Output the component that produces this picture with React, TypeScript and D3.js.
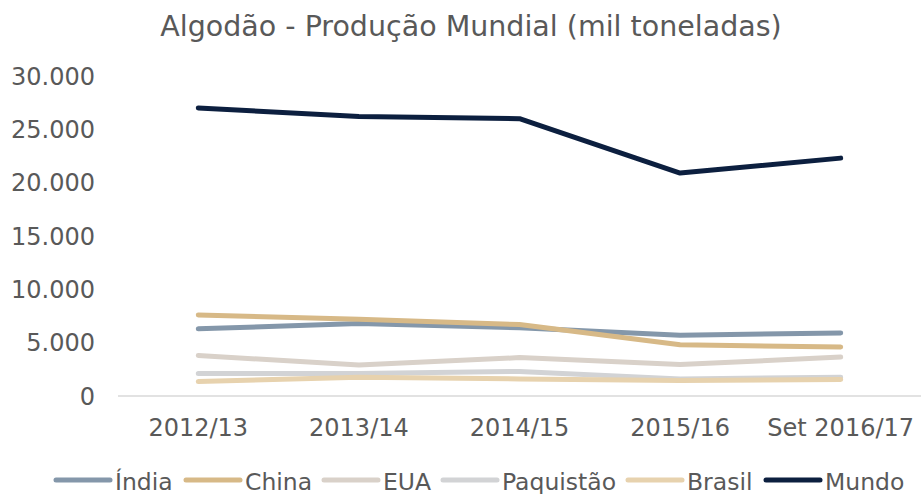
import React from "react";
import * as d3 from "d3";

const categories = ["2012/13", "2013/14", "2014/15", "2015/16", "Set 2016/17"];
const yTicks = [0, 5000, 10000, 15000, 20000, 25000, 30000];

const india = [6300, 6800, 6400, 5700, 5900];
const china = [7600, 7200, 6700, 4800, 4600];
const eua = [3800, 2900, 3600, 2950, 3650];
const paquistao = [2100, 2100, 2300, 1600, 1750];
const brasil = [1350, 1750, 1600, 1450, 1550];
const mundo = [27000, 26200, 26000, 20900, 22300];

const seriesNames = ["Índia", "China", "EUA", "Paquistão", "Brasil", "Mundo"];
const seriesValues = [india, china, eua, paquistao, brasil, mundo];
const colors = ["#8497aa", "#d7b987", "#d9d1c9", "#d2d3d5", "#e7d2ae", "#0c1f3f"];

const App = () => {
  const width = 921;
  const height = 494;
  const MARGIN = { top: 76, right: 0, bottom: 98, left: 118 };
  const font = "'DejaVu Sans', Verdana, sans-serif";
  const textColor = "#595959";

  const boundsHeight = height - MARGIN.top - MARGIN.bottom;

  const xScale = d3
    .scalePoint()
    .domain(categories)
    .range([MARGIN.left, width - MARGIN.right])
    .padding(0.5);

  const yScale = d3
    .scaleLinear()
    .domain([0, 30000])
    .range([MARGIN.top + boundsHeight, MARGIN.top]);

  const fmt = (v) => (v === 0 ? "0" : d3.format(",")(v).replace(/,/g, "."));

  const lineBuilder = d3
    .line()
    .x((d, i) => xScale(categories[i]))
    .y((d) => yScale(d));

  // legend layout
  const legendX = [56, 186, 324, 443, 628, 766];

  return (
    <svg
      width={width}
      height={height}
      style={{ position: "absolute", left: 0, top: 0, display: "block", background: "#fff" }}
    >
      <text
        x={471}
        y={36}
        textAnchor="middle"
        fontFamily={font}
        fontSize={28.5}
        fill={textColor}
      >
        Algodão - Produção Mundial (mil toneladas)
      </text>

      {yTicks.map((t) => (
        <text
          key={t}
          x={95}
          y={yScale(t)}
          dy="0.36em"
          textAnchor="end"
          fontFamily={font}
          fontSize={24}
          fill={textColor}
        >
          {fmt(t)}
        </text>
      ))}

      <line
        x1={MARGIN.left}
        x2={width - MARGIN.right}
        y1={yScale(0)}
        y2={yScale(0)}
        stroke="#d9d9d9"
        strokeWidth={1.5}
      />

      {categories.map((c) => (
        <text
          key={c}
          x={xScale(c)}
          y={436}
          textAnchor="middle"
          fontFamily={font}
          fontSize={24}
          fill={textColor}
        >
          {c}
        </text>
      ))}

      {seriesValues.map((vals, i) => (
        <path
          key={seriesNames[i]}
          d={lineBuilder(vals)}
          fill="none"
          stroke={colors[i]}
          strokeWidth={5}
          strokeLinecap="round"
          strokeLinejoin="round"
        />
      ))}

      {seriesNames.map((name, i) => (
        <g key={name} transform={`translate(${legendX[i]},480)`}>
          <line x1={0} x2={54} y1={0} y2={0} stroke={colors[i]} strokeWidth={5} strokeLinecap="round" />
          <text
            x={59}
            y={9.5}
            fontFamily={font}
            fontSize={23.5}
            fill={textColor}
          >
            {name}
          </text>
        </g>
      ))}
    </svg>
  );
};

export default App;
